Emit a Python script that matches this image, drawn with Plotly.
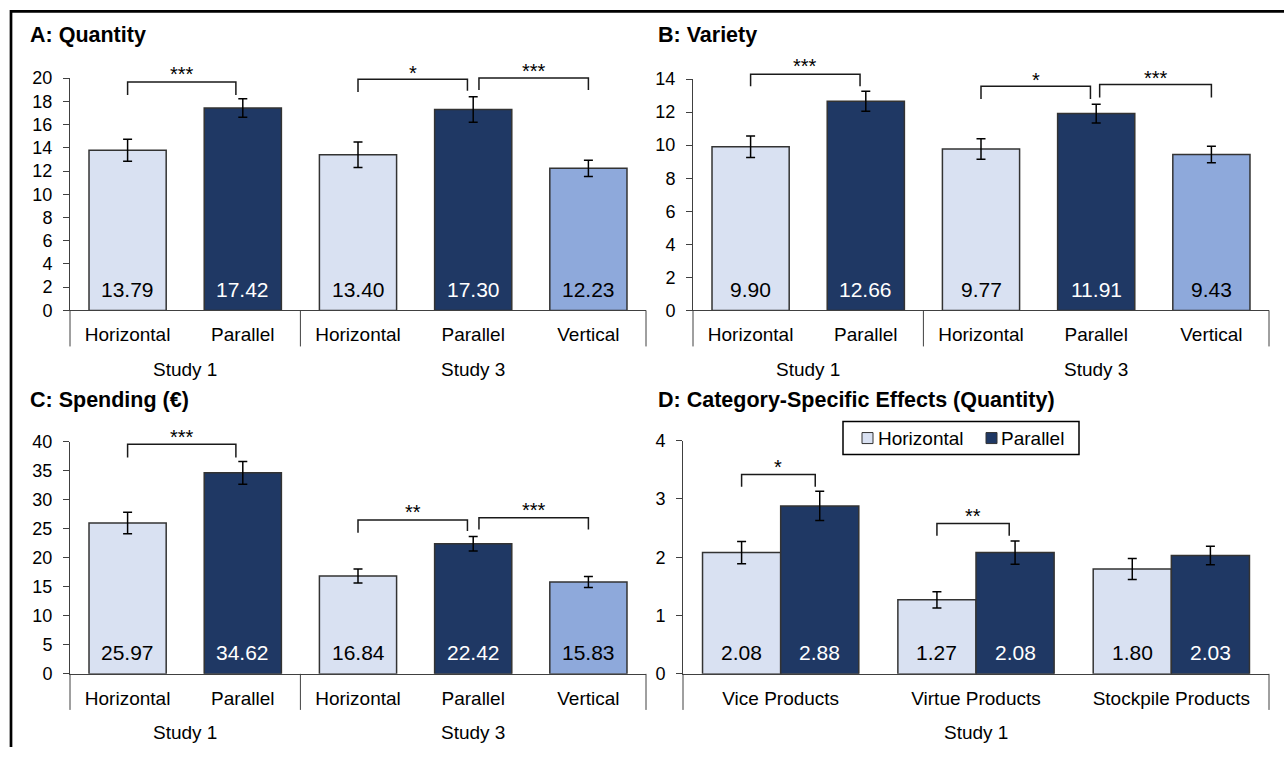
import plotly.graph_objects as go

# ---------------- data ----------------
categories_ac = ["Horizontal", "Parallel", "Horizontal", "Parallel", "Vertical"]
groups_ac = ["Study 1", "Study 3"]
quantity = [13.79, 17.42, 13.40, 17.30, 12.23]
quantity_err = [0.95, 0.80, 1.10, 1.10, 0.70]
variety = [9.90, 12.66, 9.77, 11.91, 9.43]
variety_err = [0.65, 0.60, 0.62, 0.57, 0.50]
spending = [25.97, 34.62, 16.84, 22.42, 15.83]
spending_err = [1.85, 1.95, 1.20, 1.25, 0.95]

d_categories = ["Vice Products", "Virtue Products", "Stockpile Products"]
d_group = "Study 1"
d_horizontal = [2.08, 1.27, 1.80]
d_horizontal_err = [0.19, 0.14, 0.18]
d_parallel = [2.88, 2.08, 2.03]
d_parallel_err = [0.25, 0.20, 0.16]

# significance brackets: (x_left, x_right, top, left_leg_end, right_leg_end, label_y, label)
sig_a = [(0, 0.94, 19.66, 18.54, 18.54, 20.33, "***"),
         (2, 2.95, 19.90, 18.80, 18.90, 20.47, "*"),
         (3.05, 4, 20.00, 18.97, 18.97, 20.58, "***")]
sig_b = [(0, 0.95, 14.30, 13.56, 13.56, 14.82, "***"),
         (2, 2.95, 13.56, 12.79, 12.80, 13.97, "*"),
         (3.03, 4, 13.68, 12.89, 12.89, 14.09, "***")]
sig_c = [(0, 0.94, 39.53, 37.24, 37.24, 40.83, "***"),
         (2, 2.95, 26.48, 24.31, 24.59, 27.84, "**"),
         (3.05, 4, 26.90, 24.88, 24.88, 28.19, "***")]
sig_d = [(-0.2, 0.177, 3.42, 3.21, 3.21, 3.55, "*"),
         (0.8, 1.17, 2.58, 2.37, 2.37, 2.70, "**")]

titles = ["A: Quantity", "B: Variety", "C: Spending (€)", "D: Category-Specific Effects (Quantity)"]

# ---------------- styling ----------------
W, H = 1284, 757
FONT = "Arial, 'Liberation Sans', Helvetica, sans-serif"
LIGHT = "#D9E1F2"
DARK = "#1F3864"
MID = "#8EA9DB"
EDGE = "#333333"
AXC = "#404040"
colors_ac = [LIGHT, DARK, LIGHT, DARK, MID]
textcol_ac = ["black", "white", "black", "white", "black"]

# vertical placement calibration of the photographed page
SY, OY = 0.9723, 11.0


def fx(px):
    return px / W


def fy(py):
    page = (py - OY) / SY
    return 1 - page / H


# panel geometry in (target picture) pixels: x0, x1, y_zero, y_top
panels = {
    "A": dict(x0=70, x1=646, yb=311, yt=79, ymax=20, dtick=2, n=5),
    "B": dict(x0=693, x1=1269, yb=311, yt=80, ymax=14, dtick=2, n=5),
    "C": dict(x0=70, x1=646, yb=674, yt=442, ymax=40, dtick=5, n=5),
    "D": dict(x0=683, x1=1269, yb=674, yt=441, ymax=4, dtick=1, n=3),
}

fig = go.Figure()
shapes = []
annotations = []

axis_ids = {"A": ("x", "y", "xaxis", "yaxis"), "B": ("x2", "y2", "xaxis2", "yaxis2"),
            "C": ("x3", "y3", "xaxis3", "yaxis3"), "D": ("x4", "y4", "xaxis4", "yaxis4")}

layout_axes = {}
for key, p in panels.items():
    xr, yr, xn, yn = axis_ids[key]
    layout_axes[xn] = dict(domain=[fx(p["x0"]), fx(p["x1"])], anchor=yr, range=[-0.5, p["n"] - 0.5],
                           showline=True, linecolor=AXC, linewidth=1, ticks="", showgrid=False,
                           zeroline=False, tickvals=list(range(p["n"])),
                           ticktext=categories_ac if p["n"] == 5 else d_categories,
                           tickfont=dict(size=19, color="black", family=FONT),
                           ticklabelstandoff=7, fixedrange=True)
    layout_axes[yn] = dict(domain=[fy(p["yb"]), fy(p["yt"])], anchor=xr, range=[0, p["ymax"]],
                           showline=True, linecolor=AXC, linewidth=1, ticks="outside", ticklen=6,
                           tickcolor=AXC, tickwidth=1, showgrid=False, zeroline=False,
                           tick0=0, dtick=p["dtick"], tickfont=dict(size=18, color="black", family=FONT),
                           ticklabelstandoff=7, fixedrange=True)


def add_brackets(key, sigs):
    p = panels[key]
    xr, yr, _, _ = axis_ids[key]
    n, ymax = p["n"], p["ymax"]

    def dx(v):
        return (v + 0.5) / n

    def dy(v):
        return v / ymax

    for (xl, xrr, top, ll, rl, sy, lab) in sigs:
        path = (f"M {dx(xl)},{dy(ll)} L {dx(xl)},{dy(top)} L {dx(xrr)},{dy(top)} L {dx(xrr)},{dy(rl)}")
        shapes.append(dict(type="path", path=path, xref=f"{xr} domain", yref=f"{yr} domain",
                           line=dict(color="#1a1a1a", width=1.5)))
        annotations.append(dict(x=dx((xl + xrr) / 2), y=dy(sy), xref=f"{xr} domain", yref=f"{yr} domain",
                                text=lab, showarrow=False, xanchor="center", yanchor="middle",
                                font=dict(size=20, color="black", family=FONT)))


def add_single_panel(key, values, errs, sigs):
    xr, yr, _, _ = axis_ids[key]
    p = panels[key]
    fig.add_trace(go.Bar(x=list(range(len(values))), y=values, width=0.67, xaxis=xr, yaxis=yr,
                         marker=dict(color=colors_ac, line=dict(color=EDGE, width=1.5)),
                         error_y=dict(type="data", array=errs, color="black", thickness=1.5, width=4.5),
                         showlegend=False, hoverinfo="skip"))
    for i, v in enumerate(values):
        annotations.append(dict(x=(i + 0.5) / p["n"], y=0, xref=f"{xr} domain", yref=f"{yr} domain",
                                text=f"{v:.2f}", showarrow=False, xanchor="center", yanchor="middle",
                                yshift=21, font=dict(size=21, color=textcol_ac[i], family=FONT)))
    # group dividers
    for b in [-0.5, 1.5, 4.5]:
        shapes.append(dict(type="line", xref=f"{xr} domain", yref="paper",
                           x0=(b + 0.5) / 5, x1=(b + 0.5) / 5, y0=fy(p["yb"]), y1=fy(p["yb"] + 36),
                           line=dict(color=AXC, width=1)))
    # group labels
    for gname, cx in zip(groups_ac, [0.5, 3]):
        annotations.append(dict(x=(cx + 0.5) / 5, y=fy(p["yb"] + 59), xref=f"{xr} domain", yref="paper",
                                text=gname, showarrow=False, xanchor="center", yanchor="middle",
                                font=dict(size=19, color="black", family=FONT)))
    add_brackets(key, sigs)


add_single_panel("A", quantity, quantity_err, sig_a)
add_single_panel("B", variety, variety_err, sig_b)
add_single_panel("C", spending, spending_err, sig_c)

# Panel D: grouped bars
pD = panels["D"]
xr, yr, _, _ = axis_ids["D"]
for vals, errs, col, name, off, tcol in [(d_horizontal, d_horizontal_err, LIGHT, "Horizontal", -0.4, "black"),
                                         (d_parallel, d_parallel_err, DARK, "Parallel", 0.0, "white")]:
    fig.add_trace(go.Bar(x=list(range(3)), y=vals, width=0.4, offset=off, xaxis=xr, yaxis=yr, name=name,
                         marker=dict(color=col, line=dict(color=EDGE, width=1.5)),
                         error_y=dict(type="data", array=errs, color="black", thickness=1.5, width=4.5),
                         showlegend=False, hoverinfo="skip"))
    for i, v in enumerate(vals):
        annotations.append(dict(x=(i + off + 0.2 + 0.5) / 3, y=0, xref=f"{xr} domain", yref=f"{yr} domain",
                                text=f"{v:.2f}", showarrow=False, xanchor="center", yanchor="middle",
                                yshift=21, font=dict(size=21, color=tcol, family=FONT)))
for b in [0, 1]:
    shapes.append(dict(type="line", xref=f"{xr} domain", yref="paper", x0=b, x1=b,
                       y0=fy(pD["yb"]), y1=fy(pD["yb"] + 36), line=dict(color=AXC, width=1)))
annotations.append(dict(x=0.5, y=fy(pD["yb"] + 59), xref=f"{xr} domain", yref="paper", text=d_group,
                        showarrow=False, xanchor="center", yanchor="middle",
                        font=dict(size=19, color="black", family=FONT)))
add_brackets("D", sig_d)

# manual legend for panel D
shapes.append(dict(type="rect", xref="paper", yref="paper", x0=fx(843), x1=fx(1079), y0=fy(455), y1=fy(422),
                   line=dict(color="black", width=1.5), fillcolor="white"))
for sx, col, name, tx in [(862, LIGHT, "Horizontal", 876), (986, DARK, "Parallel", 999)]:
    shapes.append(dict(type="rect", xref="paper", yref="paper", x0=fx(sx), x1=fx(sx + 11),
                       y0=fy(444), y1=fy(433), line=dict(color=EDGE, width=1), fillcolor=col))
    annotations.append(dict(x=fx(tx), y=fy(438.5), xref="paper", yref="paper", text=name, showarrow=False,
                            xanchor="left", yanchor="middle", font=dict(size=19, color="black", family=FONT)))

# panel titles
for t, (tx, ty) in zip(titles, [(28, 36), (656, 36), (28, 400), (656, 400)]):
    annotations.append(dict(x=fx(tx), y=fy(ty), xref="paper", yref="paper", text=f"<b>{t}</b>",
                            showarrow=False, xanchor="left", yanchor="middle",
                            font=dict(size=21.5, color="black", family=FONT)))

# outer frame (top and left edges)
top_frac = 1 - 1.4 / H
shapes.append(dict(type="path", xref="paper", yref="paper",
                   path=f"M {fx(11)},0 L {fx(11)},{top_frac} L 1,{top_frac}",
                   line=dict(color="black", width=2.7)))

fig.update_layout(width=W, height=H, autosize=False, margin=dict(l=0, r=0, t=0, b=0),
                  paper_bgcolor="white", plot_bgcolor="rgba(0,0,0,0)",
                  font=dict(family=FONT, color="black"),
                  shapes=shapes, annotations=annotations, showlegend=False, **layout_axes)

fig.write_html("out.html", config={"displayModeBar": False, "staticPlot": True},
               post_script="document.body.style.margin='0';document.body.style.padding='0';"
                           "document.body.style.overflow='hidden';")
